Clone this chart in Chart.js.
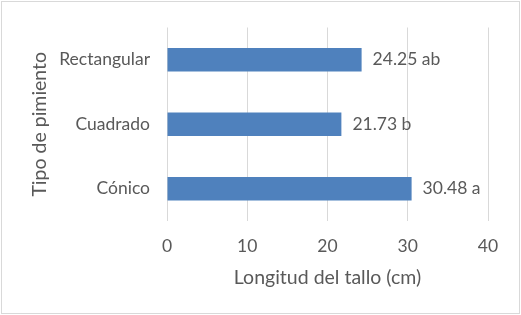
<!DOCTYPE html>
<html>
<head>
<meta charset="utf-8">
<script src="https://cdn.jsdelivr.net/npm/chart.js@4"></script>
<style>
  html, body { margin: 0; padding: 0; background: #fff; }
  #wrap { position: relative; width: 521px; height: 315px; }
  #wrap::after { content: ""; position: absolute; left: 1px; top: 1px; right: 1px; bottom: 1px; border: 1px solid #d9d9d9; pointer-events: none; }
</style>
</head>
<body>
<div id="wrap"><canvas id="grafico" width="521" height="315"></canvas></div>
<script>
  const tipos = ['Rectangular', 'Cuadrado', 'Cónico'];
  const longitud = [24.25, 21.73, 30.48];
  const letras = ['ab', 'b', 'a'];
  const ticksX = [0, 10, 20, 30, 40];

  const gris = '#595959';
  const fuente = 'Lato, "Open Sans", sans-serif';

  // etiquetas de valor al final de cada barra
  const etiquetas = {
    id: 'etiquetas',
    afterDatasetsDraw(chart) {
      const ctx = chart.ctx;
      const meta = chart.getDatasetMeta(0);
      ctx.save();
      ctx.font = '17.5px ' + fuente;
      ctx.fillStyle = gris;
      ctx.textAlign = 'left';
      ctx.textBaseline = 'middle';
      meta.data.forEach((bar, i) => {
        ctx.fillText(longitud[i].toFixed(2) + ' ' + letras[i], bar.x + 11, bar.y);
      });
      ctx.restore();
    }
  };

  const ctx = document.getElementById('grafico').getContext('2d');

  const grafico = new Chart(ctx, {
    type: 'bar',
    data: {
      labels: tipos,
      datasets: [{
        data: longitud,
        backgroundColor: '#4f81bd',
        barPercentage: 0.73,
        categoryPercentage: 0.5
      }]
    },
    plugins: [etiquetas],
    options: {
      indexAxis: 'y',
      responsive: false,
      animation: false,
      layout: { padding: { left: 0, top: 24, right: 33, bottom: 0 } },
      plugins: {
        legend: { display: false },
        tooltip: { enabled: false }
      },
      scales: {
        x: {
          min: 0,
          max: 40,
          afterBuildTicks: (s) => { s.ticks = ticksX.map(v => ({ value: v })); },
          afterFit: (s) => { s.height = 94; },
          grid: { color: '#d9d9d9', lineWidth: 1, drawTicks: false },
          border: { display: false },
          ticks: { color: gris, font: { family: fuente, size: 17.5 }, padding: 15 },
          title: {
            display: true,
            text: 'Longitud del tallo (cm)',
            color: gris,
            font: { family: fuente, size: 19.5 },
            padding: { top: 0, bottom: 26 }
          }
        },
        y: {
          afterFit: (s) => { s.width = 167; },
          grid: { display: false, drawTicks: false },
          border: { display: false },
          ticks: { color: gris, font: { family: fuente, size: 17.5 }, padding: 17 },
          title: {
            display: true,
            text: 'Tipo de pimiento',
            color: gris,
            font: { family: fuente, size: 19.5 },
            padding: { top: 28.5, bottom: 0 }
          }
        }
      }
    }
  });
</script>
</body>
</html>
